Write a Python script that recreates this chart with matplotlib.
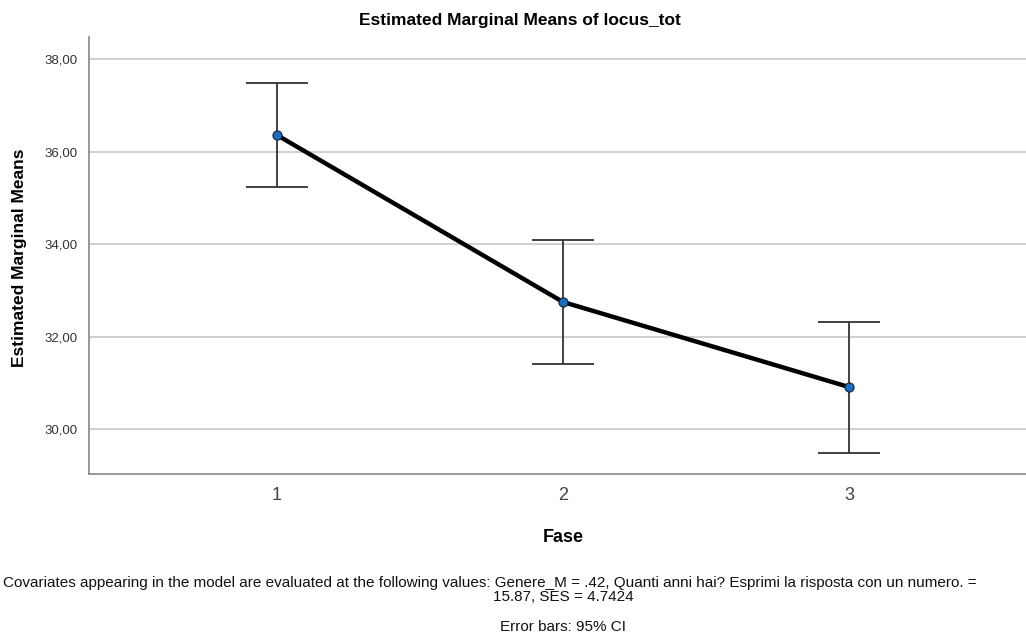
import matplotlib
matplotlib.use("Agg")
import matplotlib.pyplot as plt
import numpy as np

plt.rcParams['font.family'] = ['Liberation Sans', 'DejaVu Sans']

fase = [1, 2, 3]
means = [36.36, 32.75, 30.91]
ci_low = [35.23, 31.41, 29.48]
ci_high = [37.48, 34.09, 32.31]
ytick_vals = [30, 32, 34, 36, 38]
ytick_labels = ["30,00", "32,00", "34,00", "36,00", "38,00"]

fig = plt.figure(figsize=(10.26, 6.43), dpi=100)
W, H = 1026, 643
left, right, top, bottom = 89, 1037, 37, 474
ax = fig.add_axes([left / W, 1 - bottom / H, (right - left) / W, (bottom - top) / H])

means_a = np.array(means)
yerr = np.vstack([means_a - np.array(ci_low), np.array(ci_high) - means_a])

ax.errorbar(fase, means, yerr=yerr, fmt='none', ecolor='#333333', elinewidth=1.3,
            capsize=22, capthick=1.3, zorder=2)
ax.plot(fase, means, color='black', linewidth=3.2, zorder=3)
ax.plot(fase, means, linestyle='none', marker='o', markersize=6.5,
        markerfacecolor='#1a6fc4', markeredgecolor='#1a2a40', markeredgewidth=0.9, zorder=4)

ax.set_xlim(0.343, 3.657)
ax.set_ylim(29.03, 38.48)
ax.set_yticks(ytick_vals)
ax.set_yticklabels(ytick_labels)
ax.set_xticks(fase)
ax.set_xticklabels([str(f) for f in fase])
ax.yaxis.grid(True, color='#c8c8c8', linewidth=1.2)
ax.set_axisbelow(True)
ax.tick_params(axis='y', length=0, labelsize=9.5, labelcolor='#333333', pad=8)
ax.tick_params(axis='x', length=0, labelsize=13, labelcolor='#444444', pad=9)
for s in ['top', 'right']:
    ax.spines[s].set_visible(False)
for s in ['left', 'bottom']:
    ax.spines[s].set_color('#888888')
    ax.spines[s].set_linewidth(1.2)

fig.text(520 / W, 1 - 20 / H, "Estimated Marginal Means of locus_tot", ha='center', va='center',
         fontsize=12.5, fontweight='bold')
fig.text(20 / W, 1 - 258 / H, "Estimated Marginal Means", ha='center', va='center',
         rotation=90, fontsize=12.5, fontweight='bold')
fig.text(563 / W, 1 - 538 / H, "Fase", ha='center', va='center', fontsize=13, fontweight='bold')

note_line1 = ("Covariates appearing in the model are evaluated at the following values: Genere_M = .42, "
              "Quanti anni hai? Esprimi la risposta con un numero. =")
note_line2 = "15.87, SES = 4.7424"
fig.text(3 / W, 1 - 583 / H, note_line1, ha='left', va='center', fontsize=11,
         color='#111111')
fig.text(563 / W, 1 - 597 / H, note_line2, ha='center', va='center', fontsize=11,
         color='#111111')
fig.text(563 / W, 1 - 627 / H, "Error bars: 95% CI", ha='center', va='center', fontsize=11,
         color='#111111')

fig.savefig("out.png", dpi=100)
